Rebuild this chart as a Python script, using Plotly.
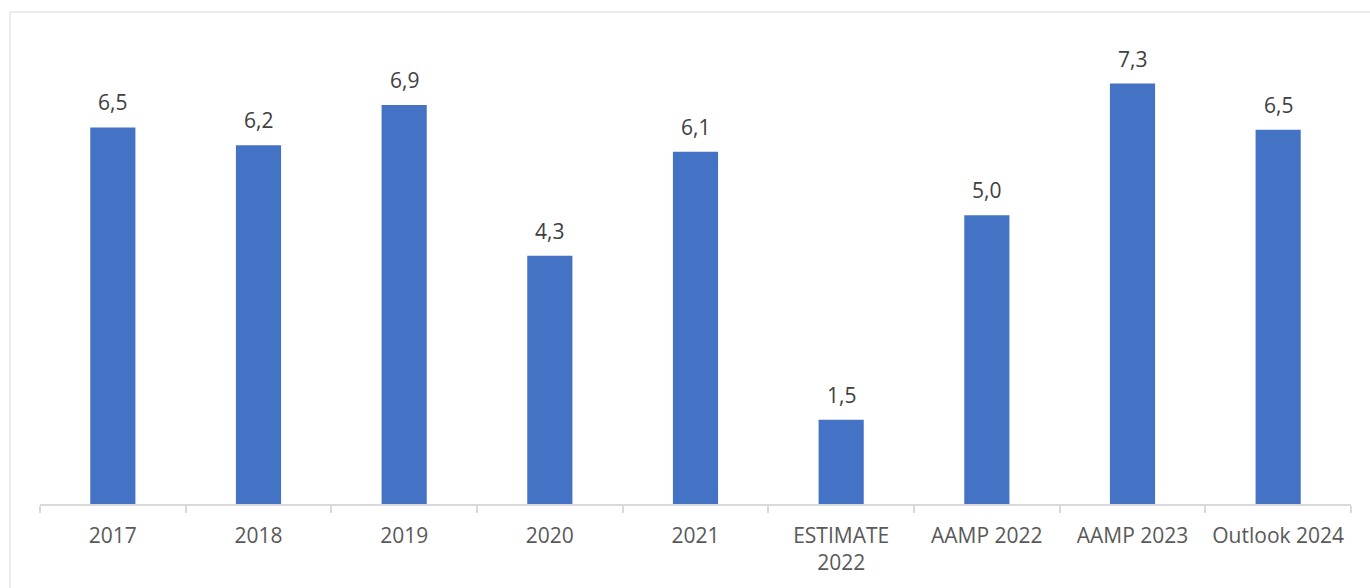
import plotly.graph_objects as go

categories = ["2017", "2018", "2019", "2020", "2021", "ESTIMATE<br>2022", "AAMP 2022", "AAMP 2023", "Outlook 2024"]
values = [6.52, 6.21, 6.91, 4.30, 6.10, 1.46, 5.00, 7.28, 6.48]
labels = ["6,5", "6,2", "6,9", "4,3", "6,1", "1,5", "5,0", "7,3", "6,5"]

W, H = 1370, 588
ml, mr, mt, mb = 40, 19, 42, 84

fig = go.Figure()
fig.add_trace(go.Bar(
    x=categories, y=values,
    marker=dict(color="#4472C4", line=dict(width=0)),
    hoverinfo="skip",
))

for i, (v, t) in enumerate(zip(values, labels)):
    fig.add_annotation(x=i, y=v, text=t, showarrow=False, yanchor="bottom",
                       yshift=9, font=dict(family="Open Sans, Arial", size=21, color="#404040"))

pw = W - ml - mr
ph = H - mt - mb
fig.add_shape(type="rect", xref="paper", yref="paper",
              x0=(10 - ml) / pw, x1=(W + 10 - ml) / pw,
              y0=(H - mb - 600) / ph, y1=(H - mb - 12) / ph,
              line=dict(color="#D9D9D9", width=1), fillcolor="rgba(0,0,0,0)", layer="below")

fig.update_layout(
    width=W, height=H,
    margin=dict(l=ml, r=mr, t=mt, b=mb, pad=0),
    paper_bgcolor="white", plot_bgcolor="white",
    bargap=0.69,
    showlegend=False,
    font=dict(family="Open Sans, Arial", size=21, color="#595959"),
    xaxis=dict(
        type="category", range=[-0.5, len(categories) - 0.5],
        showline=True, linecolor="#D9D9D9", linewidth=1.5,
        ticks="outside", tickson="boundaries", ticklen=7, tickcolor="#D9D9D9", tickwidth=1.5,
        showgrid=False, tickfont=dict(size=21, color="#595959"), ticklabelstandoff=12,
        tickangle=0,
    ),
    yaxis=dict(range=[0, 8], visible=False, showgrid=False, zeroline=False),
)

fig.write_html("out.html")
